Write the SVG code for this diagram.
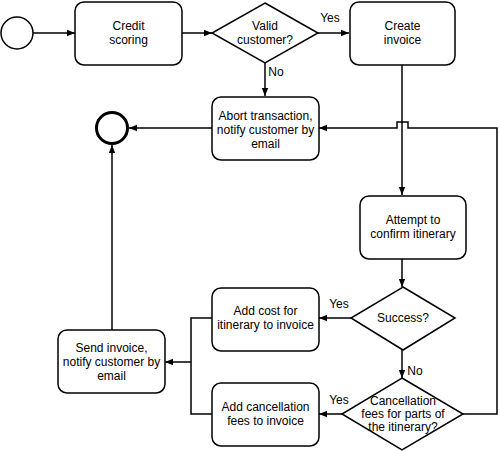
<svg xmlns="http://www.w3.org/2000/svg" width="500" height="451" viewBox="0 0 500 451">
<style>
.n{fill:#fff;stroke:#000;stroke-width:1.5}
.t{font-family:"Liberation Sans",Arial,sans-serif;font-size:12px;fill:#000;text-anchor:middle}
.c{fill:none;stroke:#000;stroke-width:1.5}
</style>
<defs>
<marker id="a" viewBox="0 0 8 8" refX="8" refY="4" markerWidth="8" markerHeight="8" markerUnits="userSpaceOnUse" orient="auto">
<path d="M0,0.8 L8,4 L0,7.2 z" fill="#000"/>
</marker>
</defs>
<rect width="500" height="451" fill="#fff"/>
<g id="connectors">
<line class="c" x1="33" y1="33" x2="75" y2="33" marker-end="url(#a)"/>
<line class="c" x1="182" y1="33" x2="212" y2="33" marker-end="url(#a)"/>
<line class="c" x1="318" y1="33" x2="349" y2="33" marker-end="url(#a)"/>
<line class="c" x1="265" y1="63" x2="265" y2="96" marker-end="url(#a)"/>
<line class="c" x1="212" y1="128" x2="129" y2="128" marker-end="url(#a)"/>
<line class="c" x1="402" y1="65" x2="402" y2="195" marker-end="url(#a)"/>
<path class="c" d="M463,414 H497 V128 H408 V122 H397 V128 H319" marker-end="url(#a)"/>
<line class="c" x1="402" y1="259" x2="402" y2="287" marker-end="url(#a)"/>
<line class="c" x1="351" y1="318" x2="319" y2="318" marker-end="url(#a)"/>
<line class="c" x1="402" y1="350" x2="402" y2="378" marker-end="url(#a)"/>
<line class="c" x1="342" y1="414" x2="319" y2="414" marker-end="url(#a)"/>
<path class="c" d="M212,318 H191 V414 H212"/>
<line class="c" x1="191" y1="362" x2="165" y2="362" marker-end="url(#a)"/>
<line class="c" x1="112" y1="330" x2="112" y2="145" marker-end="url(#a)"/>
<text class="t" x="330" y="22">Yes</text>
<text class="t" x="276" y="76">No</text>
<text class="t" x="339" y="308">Yes</text>
<text class="t" x="415" y="375">No</text>
<text class="t" x="339" y="404">Yes</text>
</g>
<g id="start"><circle class="n" cx="17" cy="33" r="16"/></g>
<g id="end"><circle cx="112" cy="128" r="15.5" fill="#fff" stroke="#000" stroke-width="3"/></g>
<g id="credit">
<rect class="n" x="75" y="2" width="107" height="63" rx="9"/>
<text class="t" x="128.5" y="30">Credit</text>
<text class="t" x="128.5" y="44">scoring</text>
</g>
<g id="valid">
<polygon class="n" points="265,3 318,33 265,63 212,33"/>
<text class="t" x="265" y="30">Valid</text>
<text class="t" x="265" y="44">customer?</text>
</g>
<g id="create">
<rect class="n" x="350" y="2" width="105" height="63" rx="9"/>
<text class="t" x="402.5" y="30">Create</text>
<text class="t" x="402.5" y="44">invoice</text>
</g>
<g id="abort">
<rect class="n" x="212" y="97" width="107" height="63" rx="9"/>
<text class="t" x="265.5" y="120">Abort transaction,</text>
<text class="t" x="265.5" y="134">notify customer by</text>
<text class="t" x="265.5" y="148">email</text>
</g>
<g id="attempt">
<rect class="n" x="360" y="196" width="106" height="63" rx="9"/>
<text class="t" x="413" y="224">Attempt to</text>
<text class="t" x="413" y="238">confirm itinerary</text>
</g>
<g id="success">
<polygon class="n" points="403,287 455,318 403,350 351,318"/>
<text class="t" x="403" y="322">Success?</text>
</g>
<g id="addcost">
<rect class="n" x="212" y="288" width="107" height="63" rx="9"/>
<text class="t" x="265.5" y="315">Add cost for</text>
<text class="t" x="265.5" y="329">itinerary to invoice</text>
</g>
<g id="cancel">
<polygon class="n" points="402,378 463,414 402,450 342,414"/>
<text class="t" x="403" y="405">Cancellation</text>
<text class="t" x="403" y="418">fees for parts of</text>
<text class="t" x="403" y="431">the itinerary?</text>
</g>
<g id="addcancel">
<rect class="n" x="212" y="383" width="107" height="63" rx="9"/>
<text class="t" x="265.5" y="411">Add cancellation</text>
<text class="t" x="265.5" y="425">fees to invoice</text>
</g>
<g id="send">
<rect class="n" x="58" y="330" width="107" height="63" rx="9"/>
<text class="t" x="111.5" y="352">Send invoice,</text>
<text class="t" x="111.5" y="366">notify customer by</text>
<text class="t" x="111.5" y="380">email</text>
</g>
</svg>
